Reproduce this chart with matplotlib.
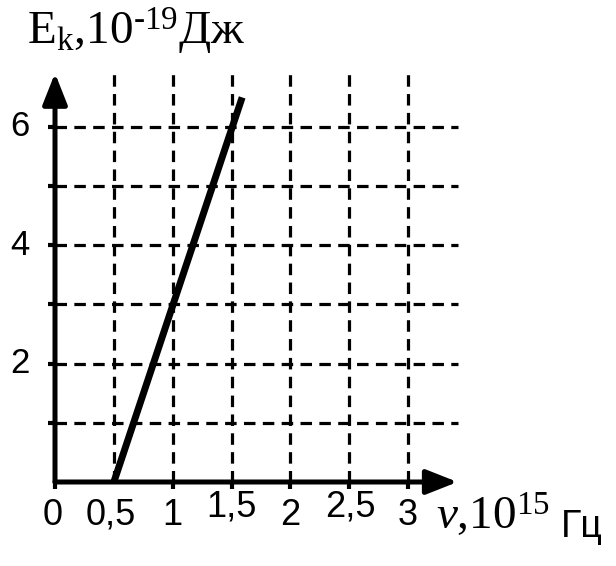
import matplotlib
matplotlib.use("Agg")
import matplotlib.pyplot as plt

# ── Данные графика ────────────────────────────
nu_line = [0.5, 1.59]          # частота, 10^15 Гц
ek_line = [0.0, 6.5]           # E_k, 10^-19 Дж

x_grid = [0.5, 1, 1.5, 2, 2.5, 3]
y_grid = [1, 2, 3, 4, 5, 6]

x_ticks = [0, 1, 1.5, 2, 2.5, 3]
x_labels = ["0", "0,5", "1", "1,5", "2", "2,5", "3"]
x_label_pos = [-0.02, 0.47, 1, 1.5, 2, 2.51, 3]
x_label_raised = [False, False, False, True, False, True, False]

y_labels = ["2", "4", "6"]
y_label_pos = [2, 4, 6]

x_top = 3.42   # конец горизонтальной сетки
y_top = 6.91   # конец вертикальной сетки
x_arrow = 3.42
y_arrow = 6.91

plt.rcParams["mathtext.fontset"] = "custom"
plt.rcParams["mathtext.rm"] = "Liberation Serif"
plt.rcParams["mathtext.it"] = "Liberation Serif:italic"

fig = plt.figure(figsize=(6.16, 5.66), dpi=100)
ax = fig.add_axes([0, 0, 1, 1])
ax.set_xlim(-0.4673, 4.766)
ax.set_ylim(-1.4197, 8.146)
ax.axis("off")

dash = (0, (3.6, 2.3))
# ── Сетка ─────────────────────────────────────
for xv in x_grid:
    ax.plot([xv, xv], [0, y_top], color="black", lw=2.3, linestyle=dash,
            dash_capstyle="butt")
for yv in y_grid:
    ax.plot([0, x_top], [yv, yv], color="black", lw=2.3, linestyle=dash,
            dash_capstyle="butt")

# ── Засечки ───────────────────────────────────
for xv in x_ticks:
    ax.plot([xv, xv], [0, -0.12], color="black", lw=3, solid_capstyle="butt")
for yv in y_grid:
    ax.plot([-0.06, 0], [yv, yv], color="black", lw=3, solid_capstyle="butt")

# ── Оси со стрелками ──────────────────────────
arrow = dict(arrowstyle="-|>,head_length=1.9,head_width=0.75",
             color="black", lw=3.6, shrinkA=0, shrinkB=0, mutation_scale=10)
ax.annotate("", xy=(x_arrow, 0), xytext=(0, 0), arrowprops=arrow)
ax.annotate("", xy=(0, y_arrow), xytext=(0, 0), arrowprops=arrow)

# ── Прямая ────────────────────────────────────
ax.plot(nu_line, ek_line, color="black", lw=5, solid_capstyle="butt")

# ── Подписи ───────────────────────────────────
sans = ["Liberation Sans", "DejaVu Sans"]
for lab, xv, raised in zip(x_labels, x_label_pos, x_label_raised):
    ax.text(xv, -0.42 if raised else -0.56, lab, ha="center", va="center",
            fontsize=26, family=sans)
for lab, yv in zip(y_labels, y_label_pos):
    ax.text(-0.3, yv, lab, ha="center", va="center", fontsize=25, family=sans)

ax.text(-0.24, 7.385, "E$_\\mathrm{k}$,10$^{\\text{-19}}$Дж",
        ha="left", va="baseline", fontsize=34, family="Liberation Serif")
ax.text(3.24, -0.812, "$\\nu$,10$^{15}$",
        ha="left", va="baseline", fontsize=34, family="Liberation Serif")
ax.text(4.3, -0.93, "Гц", ha="left", va="baseline", fontsize=27,
        family=sans)

fig.savefig("out.png", dpi=100)
